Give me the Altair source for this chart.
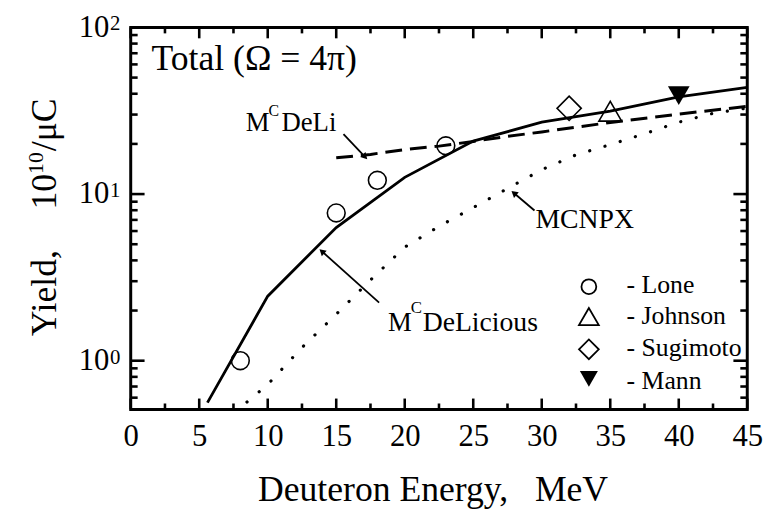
import altair as alt
import pandas as pd

# ---------------- data ----------------
delicious_e = [5.6, 10, 15, 20, 25, 30, 35, 40, 45]
delicious_y = [0.56, 2.44, 6.3, 12.6, 20.8, 27.0, 31.5, 38.3, 43.7]

deli_e = [15, 17.5, 20, 22.5, 25, 27.5, 30, 35, 40, 45]
deli_y = [16.5, 17.3, 18.5, 19.4, 20.7, 22.2, 23.6, 26.9, 30.2, 33.6]

mcnpx_e = [7.6, 10, 12.5, 15, 17.5, 20, 22.5, 25, 27.5, 30, 32.5, 35, 37.5, 40, 42.5, 45]
mcnpx_y = [0.49, 0.72, 1.2, 1.9, 3.05, 4.8, 6.4, 8.3, 10.8, 14.0, 17.2, 19.8, 23.0, 27.0, 30.5, 32.8]

lone_e = [8, 15, 18, 23]
lone_y = [1.0, 7.7, 12.1, 19.5]
johnson_e = [35]
johnson_y = [31.4]
sugimoto_e = [32]
sugimoto_y = [32.7]
mann_e = [40]
mann_y = [39.0]

legend_names = ["- Lone", "- Johnson", "- Sugimoto", "- Mann"]
legend_sym_e = [33.44, 33.44, 33.44, 33.44]
legend_sym_y = [2.78, 1.84, 1.17, 0.778]
legend_txt_e = [36.19, 36.19, 36.19, 36.19]
legend_txt_y = [2.56, 1.65, 1.066, 0.679]

X_DOMAIN = [0, 45]
Y_DOMAIN = [0.51, 100]
x_major = [0, 5, 10, 15, 20, 25, 30, 35, 40, 45]
x_minor = [2.5, 7.5, 12.5, 17.5, 22.5, 27.5, 32.5, 37.5, 42.5]
y_major = [1, 10, 100]
y_exponents = ["0", "1", "2"]
y_minor = [0.6, 0.7, 0.8, 0.9, 2, 3, 4, 5, 6, 7, 8, 9, 20, 30, 40, 50, 60, 70, 80, 90]

# annotation arrows: tail -> head
arrow_e1 = [15.53, 29.47, 18.13]
arrow_y1 = [22.9, 7.97, 2.23]
arrow_e2 = [17.05, 28.03, 14.01]
arrow_y2 = [16.9, 10.05, 4.49]
arrow_ang = [136, 310, 312]

FONT = "Liberation Serif"
W, H = 623, 386

xs = alt.Scale(domain=X_DOMAIN, nice=False, zero=False)
ys = alt.Scale(type="log", domain=Y_DOMAIN, nice=False)


def df(e, y, **extra):
    d = {"e": e, "y": y}
    d.update(extra)
    return pd.DataFrame(d)


def X(axis=None):
    return alt.X("e:Q", scale=xs, axis=axis)


def Y(axis=None):
    return alt.Y("y:Q", scale=ys, axis=axis)


main_x_axis = alt.Axis(
    orient="bottom", values=x_major, ticks=False, domain=False, grid=False,
    labelFont=FONT, labelFontSize=31, labelColor="black", labelPadding=12,
    labelFlush=False, labelOverlap=False,
    title="Deuteron Energy,\u00a0\u00a0\u00a0MeV", titleFont=FONT, titleFontSize=36,
    titleFontWeight="normal", titleColor="black", titleX=305, titleY=92,
    titleBaseline="alphabetic", titleAlign="center")
main_y_axis = alt.Axis(
    orient="left", values=y_major, ticks=False, domain=False, grid=False,
    labelExpr="'10'", labelFont=FONT, labelFontSize=31, labelColor="black",
    labelPadding=22, labelFlush=False, labelOverlap=False, title=None)

# ---------------- lines ----------------
solid = alt.Chart(df(delicious_e, delicious_y)).mark_line(
    color="black", strokeWidth=2.8, clip=True).encode(x=X(main_x_axis), y=Y(main_y_axis))

dashed = alt.Chart(df(deli_e, deli_y)).mark_line(
    color="black", strokeWidth=3, strokeDash=[17, 8], clip=True).encode(x=X(), y=Y())

dotted = alt.Chart(df(mcnpx_e, mcnpx_y)).mark_line(
    color="black", strokeWidth=3.2, strokeDash=[0.1, 16], strokeCap="round", clip=True
).encode(x=X(), y=Y())

# ---------------- inward ticks: stroke-only symbols anchored on the frame ----------------
# custom symbol path is scaled by sqrt(size)/2, so "L0,-2" gives a stroke sqrt(size) px long
UP, DOWN, RIGHT, LEFT = "M0,0L0,-2", "M0,0L0,2", "M0,0L2,0", "M0,0L-2,0"


def tick_marks(e_vals, y_vals, path, length):
    return alt.Chart(df(e_vals, y_vals)).mark_point(
        shape=path, size=length * length, filled=False, color="black", stroke="black",
        strokeWidth=2.6, opacity=1, strokeCap="butt").encode(x=X(), y=Y())


nxM, nxm, nyM, nym = len(x_major), len(x_minor), len(y_major), len(y_minor)
tick_layers = [
    tick_marks(x_major, [Y_DOMAIN[0]] * nxM, UP, 11),
    tick_marks(x_major, [Y_DOMAIN[1]] * nxM, DOWN, 11),
    tick_marks(x_minor, [Y_DOMAIN[0]] * nxm, UP, 6),
    tick_marks(x_minor, [Y_DOMAIN[1]] * nxm, DOWN, 6),
    tick_marks([X_DOMAIN[0]] * nyM, y_major, RIGHT, 14),
    tick_marks([X_DOMAIN[1]] * nyM, y_major, LEFT, 14),
    tick_marks([X_DOMAIN[0]] * nym, y_minor, RIGHT, 7),
    tick_marks([X_DOMAIN[1]] * nym, y_minor, LEFT, 7),
]

# exponents of the y tick labels
exp_layer = alt.Chart(pd.DataFrame({"y": y_major, "t": y_exponents})).mark_text(
    align="left", baseline="alphabetic", font=FONT, fontSize=21, color="black", dy=3
).encode(y=Y(), x=alt.value(-21), text="t:N")


# y axis title pieces (rotated)
def ytitle(text, size, px, py):
    return alt.Chart(pd.DataFrame({"t": [text]})).mark_text(
        align="left", baseline="alphabetic", font=FONT, fontSize=size, color="black",
        angle=270).encode(x=alt.value(px), y=alt.value(py), text="t:N")


ytitle_layers = [
    ytitle("Yield,", 36, -75, 312),
    ytitle("10", 36, -75, 184),
    ytitle("10", 22, -89, 148),
    ytitle("/\u03bcC", 36, -75, 125),
]

# ---------------- data points ----------------
lone = alt.Chart(df(lone_e, lone_y)).mark_point(
    shape="circle", size=324, color="black", filled=False, opacity=1, strokeWidth=1.6).encode(x=X(), y=Y())
johnson = alt.Chart(df(johnson_e, johnson_y)).mark_point(
    shape="triangle-up", size=530, color="black", filled=False, opacity=1, strokeWidth=1.6).encode(x=X(), y=Y())
sugimoto = alt.Chart(df(sugimoto_e, sugimoto_y)).mark_point(
    shape="diamond", size=600, color="black", filled=False, opacity=1, strokeWidth=1.6).encode(x=X(), y=Y())
mann = alt.Chart(df(mann_e, mann_y)).mark_point(
    shape="triangle-down", size=480, color="black", filled=True, opacity=1).encode(x=X(), y=Y())

# ---------------- legend ----------------
leg_shapes = ["circle", "triangle-up", "diamond", "triangle-down"]
leg_sizes = [225, 400, 400, 330]
leg_layers = []
for i, shp in enumerate(leg_shapes):
    leg_layers.append(
        alt.Chart(df([legend_sym_e[i]], [legend_sym_y[i]])).mark_point(
            shape=shp, size=leg_sizes[i], color="black", filled=(shp == "triangle-down"),
            opacity=1, strokeWidth=1.8).encode(x=X(), y=Y()))
leg_text = alt.Chart(df(legend_txt_e, legend_txt_y, t=legend_names)).mark_text(
    align="left", baseline="alphabetic", font=FONT, fontSize=26, color="black"
).encode(x=X(), y=Y(), text="t:N")


# ---------------- annotations ----------------
def label(e, y, text, size, dx=0, dy=0):
    return alt.Chart(df([e], [y], t=[text])).mark_text(
        align="left", baseline="alphabetic", font=FONT, fontSize=size, color="black",
        dx=dx, dy=dy).encode(x=X(), y=Y(), text="t:N")


labels = [
    label(1.52, 55.6, "Total (\u03a9 = 4\u03c0)", 36),
    label(8.40, 23.8, "M", 27),
    label(8.40, 23.8, "C", 16, dx=23, dy=-15),
    label(8.40, 23.8, "DeLi", 27, dx=36),
    label(29.54, 6.22, "MCNPX", 28),
    label(18.78, 1.50, "M", 27),
    label(18.78, 1.50, "C", 17, dx=23, dy=-19),
    label(18.78, 1.50, "DeLicious", 28, dx=35),
]

arrows_df = pd.DataFrame({"e": arrow_e1, "y": arrow_y1, "e2": arrow_e2, "y2": arrow_y2,
                          "a": arrow_ang})
arrow_lines = alt.Chart(arrows_df).mark_rule(color="black", strokeWidth=1.8).encode(
    x=X(), y=Y(), x2="e2:Q", y2="y2:Q")
arrow_heads = alt.Chart(arrows_df).mark_point(
    shape="triangle", size=55, color="black", filled=True, opacity=1).encode(
    x=alt.X("e2:Q", scale=xs, axis=None), y=alt.Y("y2:Q", scale=ys, axis=None),
    angle=alt.Angle("a:Q", scale=None))

chart = alt.layer(
    solid, dashed, dotted, *tick_layers, exp_layer, *ytitle_layers,
    lone, johnson, sugimoto, mann, *leg_layers, leg_text, *labels,
    arrow_lines, arrow_heads
).resolve_axis(x="independent", y="independent").properties(
    width=W, height=H,
    autosize=alt.AutoSizeParams(type="none"),
    padding={"left": 124, "top": 17, "right": 25, "bottom": 101},
    background="white",
).configure_view(stroke="black", strokeWidth=3)

chart.save("out.html", embed_options={"renderer": "svg", "actions": False})
